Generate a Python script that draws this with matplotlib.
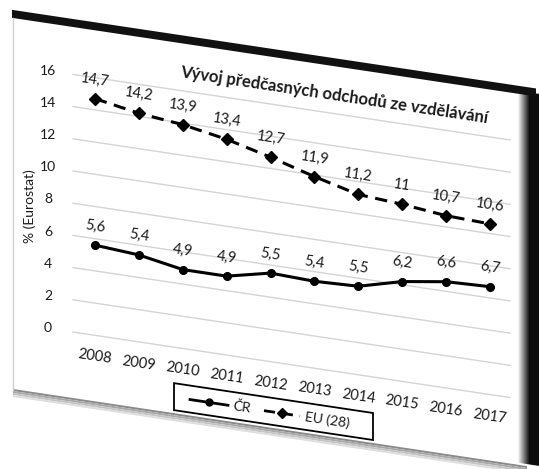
import numpy as np
import matplotlib
matplotlib.use('Agg')
import matplotlib.pyplot as plt
import matplotlib.transforms as mtransforms
from matplotlib.patches import Polygon, Rectangle
from matplotlib.lines import Line2D

# data
roky = [2008, 2009, 2010, 2011, 2012, 2013, 2014, 2015, 2016, 2017]
cr = [5.6, 5.4, 4.9, 4.9, 5.5, 5.4, 5.5, 6.2, 6.6, 6.7]
eu = [14.7, 14.2, 13.9, 13.4, 12.7, 11.9, 11.2, 11.0, 10.7, 10.6]
y_ticks = [0, 2, 4, 6, 8, 10, 12, 14, 16]
nazev = 'Vývoj předčasných odchodů ze vzdělávání'
osa_y = '% (Eurostat)'
popisky = ['ČR', 'EU (28)']

plt.rcParams['font.family'] = ['Lato', 'DejaVu Sans']

W, H = 539, 469
fig = plt.figure(figsize=(W / 100, H / 100), dpi=100)
fig.patch.set_facecolor('white')

# sklopeny list: svisle cary zustavaji svisle, vodorovne klesaji doprava
K = 0.15
X0 = 73
UHEL = -np.degrees(np.arctan(K))
skos = mtransforms.Affine2D(np.array([[1, 0, 0], [-K, 1, K * X0], [0, 0, 1]]))
px = mtransforms.Affine2D(np.array([[1, 0, 0], [0, -1, H], [0, 0, 1]])) + skos

TXT = '#1a1a1a'

# podklad listu se stiny
def poly(pts, color, z=-5):
    fig.add_artist(Polygon(pts, closed=True, transform=px, facecolor=color,
                           edgecolor='none', zorder=z))

poly([(13, 26), (527, 26), (527, 399), (13, 399)], 'white', -6)
# spodni stin
for i, c in enumerate(['#8a8a8a', '#a8a8a8', '#c4c4c4', '#dedede']):
    poly([(13, 398 + i * 2), (527, 398 + i * 2), (527, 400 + i * 2), (13, 400 + i * 2)], c)
# pravy stin
sloupce = np.linspace(518, 539, 22)
for i in range(len(sloupce) - 1):
    t = min(1.0, i / 11)
    g = 0.95 * (1 - t) + 0.05 * t
    poly([(sloupce[i], 24), (sloupce[i + 1], 24), (sloupce[i + 1], 396), (sloupce[i], 396)],
         (g, g, g))
# horni cerny okraj
poly([(12, 19), (536, 19), (536, 27), (12, 27)], '#111111', -4)
# levy okraj
fig.add_artist(Line2D([13, 13], [27, 399], transform=px, color='#cfcfcf', lw=1, zorder=-4))

# graf
ax = fig.add_axes([X0 / W, (H - 332) / H, 437 / W, 257.6 / H])
ax.axis('off')
data = ax.transData + skos
mrizka = mtransforms.blended_transform_factory(ax.transAxes, ax.transData) + skos

for t in y_ticks:
    ax.plot([0, 1], [t, t], transform=mrizka, color='#d4d4d4', lw=1.0, clip_on=False, zorder=1)
    ax.text(-0.057, t, str(t), transform=mrizka, ha='center', va='center',
            fontsize=10, color=TXT)

ax.plot(roky, cr, '-o', color='black', lw=2.2, ms=5.5, transform=data, clip_on=False, zorder=3)
ax.plot(roky, eu, '--D', color='black', lw=2.2, ms=6.5, dashes=(4, 2.5), transform=data,
        clip_on=False, zorder=3)

def fmt(v):
    return ('%g' % v).replace('.', ',')

for r, a, b in zip(roky, cr, eu):
    ax.text(r, a + 1.18, fmt(a), transform=data, ha='center', va='center', fontsize=10.5,
            color=TXT, rotation=UHEL, rotation_mode='anchor', zorder=4)
    ax.text(r, b + 1.18, fmt(b), transform=data, ha='center', va='center', fontsize=10.5,
            color=TXT, rotation=UHEL, rotation_mode='anchor', zorder=4)
    ax.text(r, -1.34, str(r), transform=data, ha='center', va='center', fontsize=10.5,
            color=TXT, rotation=UHEL, rotation_mode='anchor')

ax.set_xlim(2007.499, 2017.456)
ax.set_ylim(0, 16)

# titulek a popis osy
fig.text(334, 56, nazev, transform=px, ha='center', va='center', fontsize=12,
         fontweight='bold', color=TXT, rotation=UHEL, rotation_mode='anchor')
fig.text(30, 213, osa_y, transform=px, ha='center', va='center', fontsize=10,
         color=TXT, rotation=90, rotation_mode='anchor')

# legenda
fig.add_artist(Rectangle((174, 368), 199, 27, transform=px, facecolor='white',
                         edgecolor='black', lw=1.3, zorder=5))
fig.add_artist(Line2D([190, 228], [382, 382], transform=px, color='black', lw=2.0, zorder=6))
fig.add_artist(Line2D([209], [382], transform=px, color='black', marker='o', ms=5, zorder=6))
fig.text(233, 382, popisky[0], transform=px, ha='left', va='center', fontsize=10,
         color=TXT, rotation=UHEL, rotation_mode='anchor', zorder=6)
fig.add_artist(Line2D([264, 300], [382, 382], transform=px, color='black', lw=2.0,
                      dashes=(4, 2.5), zorder=6))
fig.add_artist(Line2D([282], [382], transform=px, color='black', marker='D', ms=5.5, zorder=6))
fig.text(305, 382, popisky[1], transform=px, ha='left', va='center', fontsize=10,
         color=TXT, rotation=UHEL, rotation_mode='anchor', zorder=6)

fig.savefig('out.png', dpi=100)
